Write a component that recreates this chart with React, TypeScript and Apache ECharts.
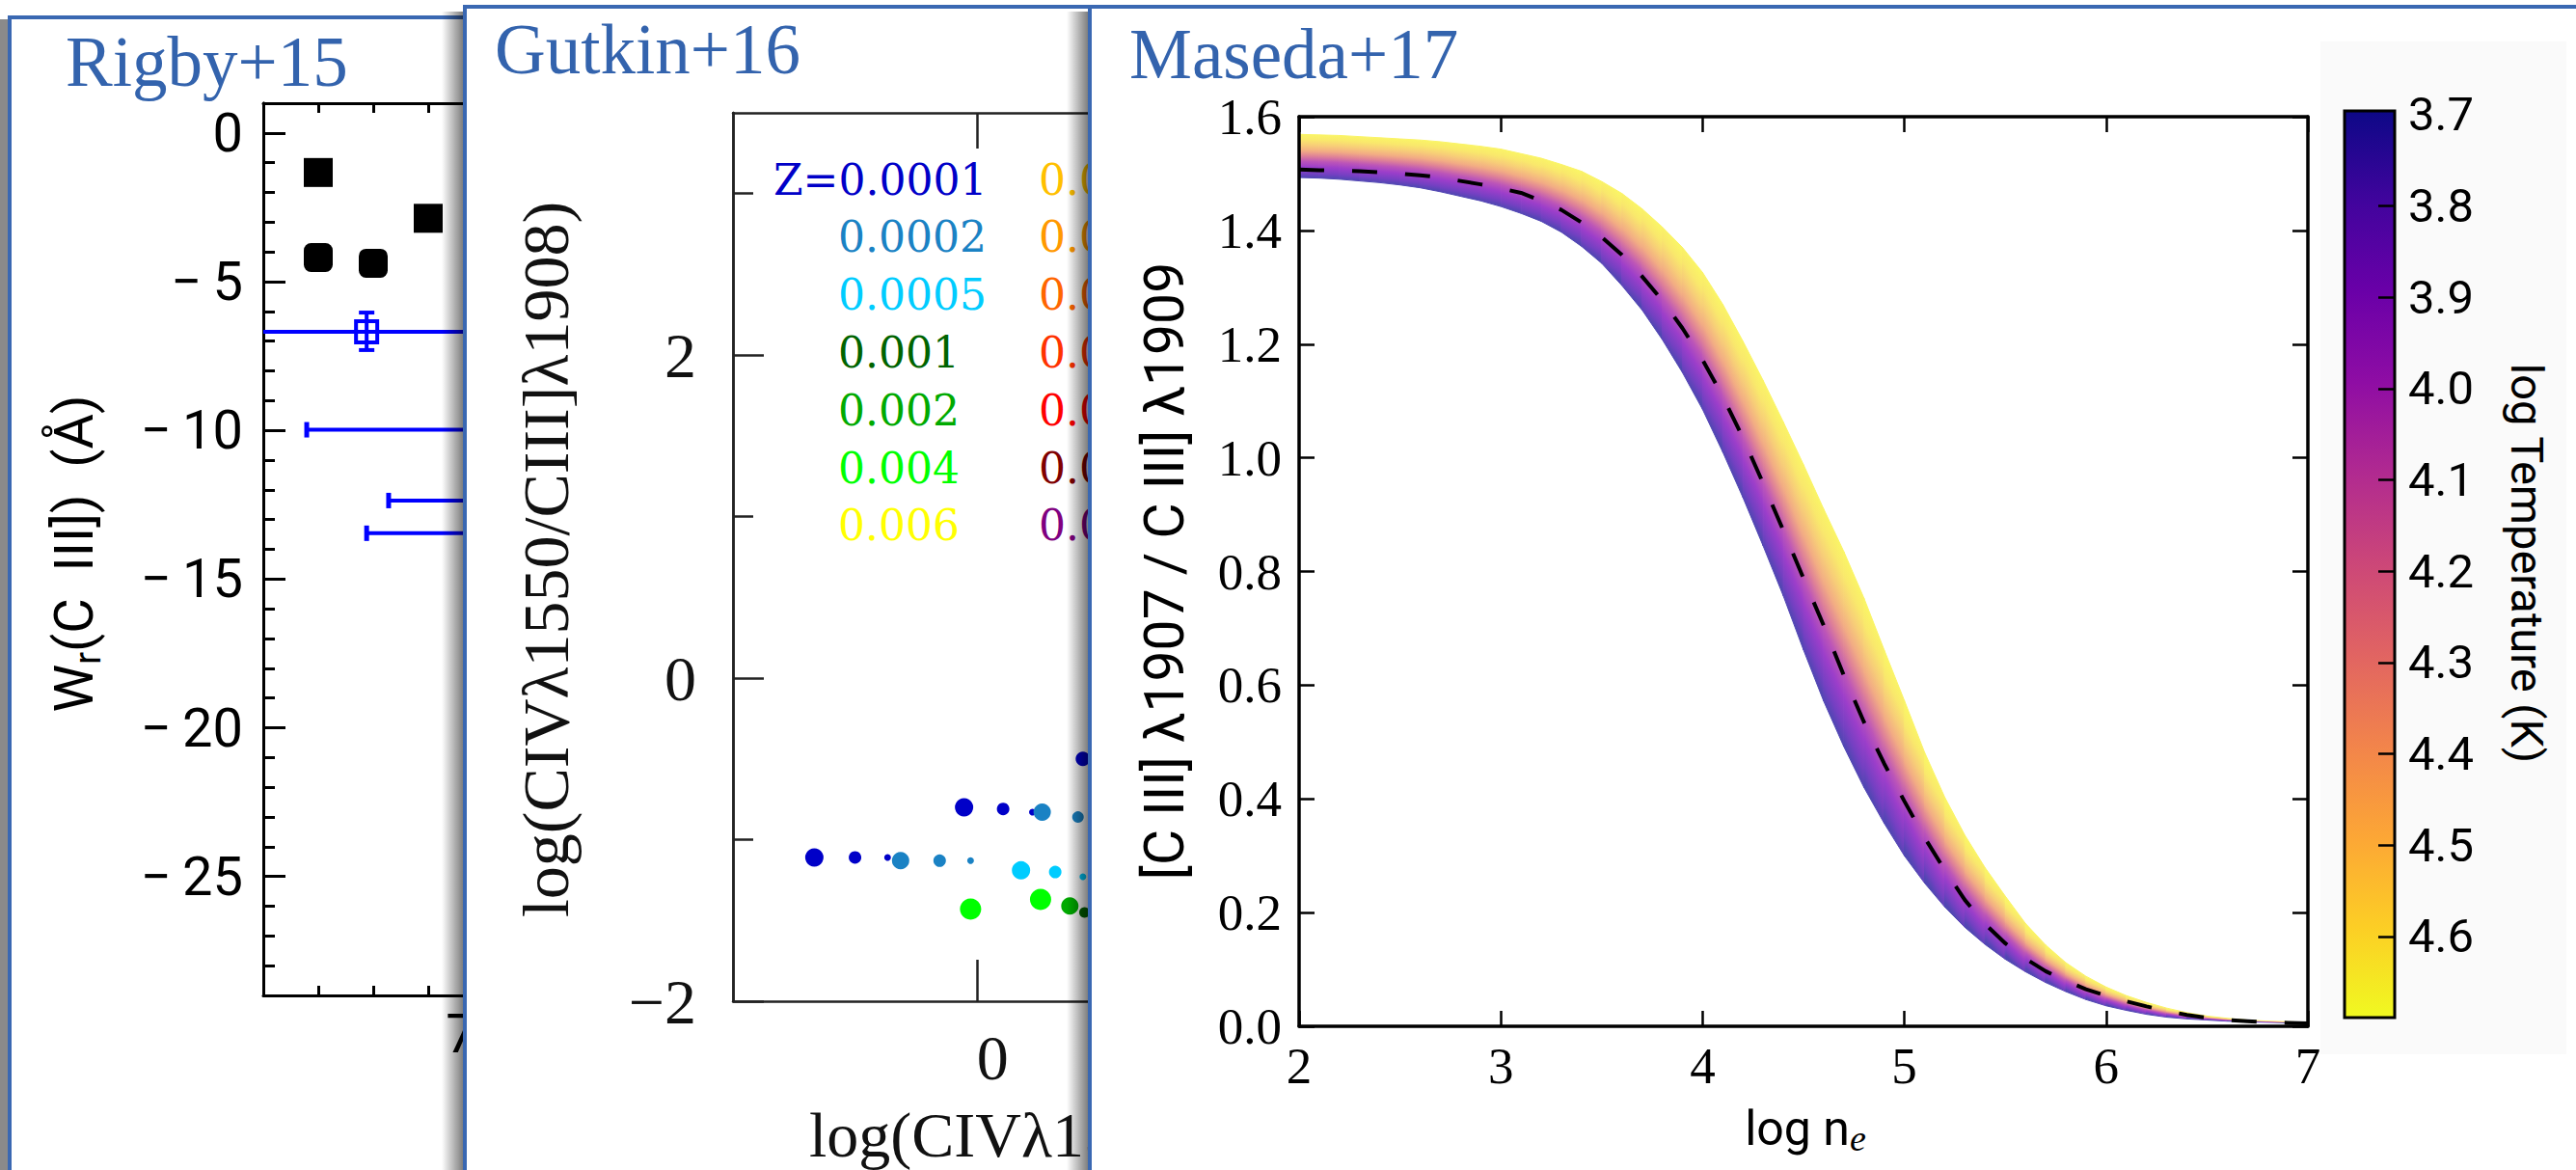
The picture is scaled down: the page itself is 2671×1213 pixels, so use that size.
import React, { useEffect, useRef } from "react";
import * as echarts from "echarts";

const W = 2671;
const H = 1213;

// ---------------- Rigby+15 ----------------
const rigbySquares = [
  [6.7, -1.33],
  [6.7, -4.19],
  [6.8, -4.38],
  [6.9, -2.87],
];
const rigbySquareSymbols = ["rect", "roundRect", "roundRect", "rect"];
const rigbyDetections = [[6.788, -6.69]];
const rigbyDetectionErr = [[6.788, -6.04, -7.3]]; // x, top, bottom
// y, x start, x end, capped(1)/open(0)
const rigbyLimitLines = [
  [-6.69, 6.5, 7.4, 0],
  [-9.98, 6.679, 7.4, 1],
  [-12.36, 6.828, 7.4, 1],
  [-13.46, 6.788, 7.4, 1],
];
const rigbyYMajor = [-25, -20, -15, -10, -5, 0];
const rigbyXLabels = [7];

// ---------------- Gutkin+16 ----------------
const gutkinZ1 = ["0.0001", "0.0002", "0.0005", "0.001", "0.002", "0.004", "0.006"];
const gutkinZ2 = ["0.008", "0.010", "0.014", "0.017", "0.020", "0.030", "0.040"];
const gutkinColors1 = ["#0000C8", "#1A82C4", "#00CCFF", "#006400", "#00AA00", "#00FF00", "#FFFF00"];
const gutkinColors2 = ["#FFC000", "#FF9900", "#FF6600", "#FF3300", "#FF0000", "#800000", "#800080"];
// per metallicity: [x, y, marker size]
const gutkinPoints = [
  [[-1.0, -1.11, 19], [-0.75, -1.11, 13], [-0.55, -1.11, 7], [-0.08, -0.8, 19], [0.16, -0.81, 13], [0.34, -0.83, 7], [0.65, -0.5, 15]],
  [[-0.47, -1.13, 18], [-0.23, -1.13, 13], [-0.04, -1.13, 7], [0.4, -0.83, 18], [0.62, -0.86, 12]],
  [[0.27, -1.19, 19], [0.48, -1.2, 13], [0.65, -1.23, 7]],
  [[0.66, -1.45, 11]],
  [[0.57, -1.41, 18]],
  [[-0.04, -1.43, 22], [0.39, -1.37, 22]],
  [],
];
const gutkinYMajor = [-2, 0, 2];
const gutkinYMinor = [-1, 1, 3];
const gutkinXTicks = [0, 2];
const gutkinXLabels = [0];

// ---------------- Maseda+17 ----------------
const masedaX = [
  2.0, 2.1, 2.2, 2.3, 2.4, 2.5, 2.6, 2.7, 2.8, 2.9,
  3.0, 3.1, 3.2, 3.3, 3.4, 3.5, 3.6, 3.7, 3.8, 3.9,
  4.0, 4.1, 4.2, 4.3, 4.4, 4.5, 4.6, 4.7, 4.8, 4.9,
  5.0, 5.1, 5.2, 5.3, 5.4, 5.5, 5.6, 5.7, 5.8, 5.9,
  6.0, 6.1, 6.2, 6.3, 6.4, 6.5, 6.6, 6.7, 6.8, 6.9, 7.0,
];
// edge of the band for the highest temperature (yellow side)
const masedaHighT = [
  1.569, 1.568, 1.567, 1.565, 1.563, 1.561, 1.559, 1.556, 1.552, 1.548,
  1.543, 1.535, 1.527, 1.516, 1.504, 1.486, 1.465, 1.438, 1.406, 1.37,
  1.326, 1.27, 1.205, 1.136, 1.063, 0.988, 0.91, 0.835, 0.753, 0.662,
  0.573, 0.482, 0.403, 0.336, 0.279, 0.229, 0.181, 0.143, 0.112, 0.088,
  0.069, 0.054, 0.042, 0.032, 0.024, 0.018, 0.014, 0.011, 0.009, 0.008, 0.007,
];
// edge of the band for the lowest temperature (purple side)
const masedaLowT = [
  1.493, 1.492, 1.49, 1.487, 1.484, 1.48, 1.475, 1.468, 1.46, 1.452,
  1.442, 1.43, 1.416, 1.397, 1.372, 1.342, 1.303, 1.26, 1.208, 1.15,
  1.085, 1.01, 0.93, 0.845, 0.757, 0.662, 0.572, 0.492, 0.42, 0.357,
  0.3, 0.252, 0.21, 0.174, 0.144, 0.118, 0.096, 0.077, 0.061, 0.047,
  0.036, 0.028, 0.021, 0.016, 0.013, 0.011, 0.009, 0.008, 0.007, 0.006, 0.005,
];
const masedaDashed = [
  1.507, 1.506, 1.505, 1.504, 1.502, 1.5, 1.497, 1.493, 1.487, 1.481,
  1.474, 1.466, 1.452, 1.436, 1.414, 1.388, 1.357, 1.319, 1.277, 1.228,
  1.172, 1.108, 1.035, 0.955, 0.872, 0.788, 0.705, 0.617, 0.535, 0.462,
  0.396, 0.332, 0.275, 0.222, 0.18, 0.146, 0.119, 0.097, 0.08, 0.065,
  0.054, 0.044, 0.035, 0.027, 0.02, 0.015, 0.011, 0.009, 0.007, 0.006, 0.005,
];
const cbarRange = [3.696, 4.689];
const cbarTicks = [3.8, 3.9, 4.0, 4.1, 4.2, 4.3, 4.4, 4.5, 4.6];
const cbarLabels = [3.7, 3.8, 3.9, 4.0, 4.1, 4.2, 4.3, 4.4, 4.5, 4.6];

const plasmaStops = [
  { offset: 0, color: "#0d0887" },
  { offset: 0.1, color: "#41049d" },
  { offset: 0.2, color: "#6a00a8" },
  { offset: 0.3, color: "#8f0da4" },
  { offset: 0.4, color: "#b12a90" },
  { offset: 0.5, color: "#cc4778" },
  { offset: 0.6, color: "#e16462" },
  { offset: 0.7, color: "#f2844b" },
  { offset: 0.8, color: "#fca636" },
  { offset: 0.9, color: "#fcce25" },
  { offset: 1, color: "#f0f921" },
];
const bandStops = [
  { offset: 0, color: "#5046B2" },
  { offset: 0.1, color: "#7440C2" },
  { offset: 0.25, color: "#9C3ECA" },
  { offset: 0.38, color: "#BC55B8" },
  { offset: 0.5, color: "#DE8098" },
  { offset: 0.62, color: "#F2AC84" },
  { offset: 0.75, color: "#F7CD78" },
  { offset: 0.88, color: "#F9E86C" },
  { offset: 1, color: "#FAF466" },
];

const TITLE_BLUE = "#3363AD";
const BORDER_BLUE = "#3A68B2";
const SERIF = "Liberation Serif";
const SANS = "Roboto";

const minusFmt = (v: number) => (v < 0 ? "\u2212" + Math.abs(v) : String(v));
const minusSpaced = (v: number) => (v < 0 ? "\u2212\u2009" + Math.abs(v) : String(v));

// axis label built as rich text so the font family is applied for sure
function richLabel(fmt: (v: number) => string, family: string, size: number, color: string) {
  const lh = Math.round(size * 0.92);
  return {
    formatter: (v: number) => "{t|" + fmt(v) + "}",
    fontFamily: family,
    fontSize: size,
    lineHeight: lh,
    color,
    rich: { t: { fontFamily: family, fontSize: size, lineHeight: lh, color } },
  };
}

function buildOption() {
  const graphics: any[] = [];
  const shadowGrad = () =>
    new echarts.graphic.LinearGradient(0, 0, 1, 0, [
      { offset: 0, color: "rgba(0,0,0,0)" },
      { offset: 1, color: "rgba(0,0,0,0.55)" },
    ]);

  // Rigby panel
  graphics.push({ type: "rect", z: 0, shape: { x: 0, y: 20, width: 9, height: 1200 }, style: { fill: "#8a8a8a" } });
  graphics.push({ type: "rect", z: 1, shape: { x: 10, y: 18, width: 1000, height: 1300 }, style: { fill: "#fff", stroke: BORDER_BLUE, lineWidth: 4 } });
  graphics.push({ type: "text", z: 3, x: 68, y: 64, style: { text: "Rigby+15", fontFamily: SERIF, fontSize: 73, lineHeight: 70, fill: TITLE_BLUE, align: "left", verticalAlign: "middle" } });
  graphics.push({
    type: "text", z: 3, x: 77, y: 574, rotation: Math.PI / 2,
    style: {
      text: "{a|W}{s|r}{a|(C\u00A0\u00A0III])\u00A0\u00A0(\u00C5)}",
      align: "center", verticalAlign: "middle",
      rich: {
        a: { fontFamily: SANS, fontSize: 56, fill: "#000", lineHeight: 66, verticalAlign: "middle" },
        s: { fontFamily: SANS, fontSize: 38, fill: "#000", lineHeight: 30, verticalAlign: "bottom" },
      },
    },
  });

  // Gutkin panel
  graphics.push({ type: "rect", z: 9, shape: { x: 458, y: 12, width: 24, height: 1210 }, style: { fill: shadowGrad() } });
  graphics.push({ type: "rect", z: 10, shape: { x: 482, y: 7, width: 1000, height: 1300 }, style: { fill: "#fff", stroke: BORDER_BLUE, lineWidth: 4 } });
  graphics.push({ type: "text", z: 12, x: 513, y: 51, style: { text: "Gutkin+16", fontFamily: SERIF, fontSize: 73, lineHeight: 70, fill: TITLE_BLUE, align: "left", verticalAlign: "middle" } });
  graphics.push({ type: "text", z: 12, x: 566, y: 580, rotation: Math.PI / 2, style: { text: "log(CIV\u03BB1550/CIII]\u03BB1908)", fontFamily: SERIF, fontSize: 68, fill: "#111", align: "center", verticalAlign: "middle" } });
  graphics.push({ type: "text", z: 12, x: 839, y: 1176, style: { text: "log(CIV\u03BB1550/HeII\u03BB1640)", fontFamily: SERIF, fontSize: 66, fill: "#111", align: "left", verticalAlign: "middle" } });
  gutkinZ1.forEach((z, i) => {
    graphics.push({ type: "text", z: 12, x: i === 0 ? 802 : 869, y: 186 + i * 59.8, style: { text: i === 0 ? "Z=" + z : z, fontFamily: "DejaVu Serif", fontSize: 44, lineHeight: 46, fill: gutkinColors1[i], align: "left", verticalAlign: "middle" } });
  });
  gutkinZ2.forEach((z, i) => {
    graphics.push({ type: "text", z: 12, x: 1077, y: 186 + i * 59.8, style: { text: z, fontFamily: "DejaVu Serif", fontSize: 44, lineHeight: 46, fill: gutkinColors2[i], align: "left", verticalAlign: "middle" } });
  });

  // Maseda panel
  graphics.push({ type: "rect", z: 19, shape: { x: 1106, y: 12, width: 24, height: 1210 }, style: { fill: shadowGrad() } });
  graphics.push({ type: "rect", z: 20, shape: { x: 1130, y: 7, width: 1600, height: 1300 }, style: { fill: "#fff", stroke: BORDER_BLUE, lineWidth: 4 } });
  graphics.push({ type: "rect", z: 21, shape: { x: 2406, y: 43, width: 255, height: 1050 }, style: { fill: "#FAFAFA" } });
  graphics.push({ type: "text", z: 25, x: 1171, y: 56, style: { text: "Maseda+17", fontFamily: SERIF, fontSize: 73, lineHeight: 66, fill: TITLE_BLUE, align: "left", verticalAlign: "middle" } });
  graphics.push({ type: "text", z: 25, x: 1207, y: 592, rotation: Math.PI / 2, style: { text: "[C III] \u03BB1907 / C III] \u03BB1909", fontFamily: SANS, fontSize: 57, fill: "#000", align: "center", verticalAlign: "middle" } });
  graphics.push({
    type: "text", z: 25, x: 1872, y: 1170,
    style: {
      text: "{a|log n}{s|e}", align: "center", verticalAlign: "middle",
      rich: {
        a: { fontFamily: SANS, fontSize: 50, fill: "#000", lineHeight: 58, verticalAlign: "middle" },
        s: { fontFamily: SERIF, fontStyle: "italic", fontSize: 38, fill: "#000", lineHeight: 24, verticalAlign: "bottom" },
      },
    },
  });
  graphics.push({ type: "text", z: 25, x: 2620, y: 584, rotation: -Math.PI / 2, style: { text: "log Temperature (K)", fontFamily: SANS, fontSize: 47, fill: "#000", align: "center", verticalAlign: "middle" } });

  const lineBlack = (w: number, c = "#000") => ({ color: c, width: w });

  const xAxis: any[] = [
    {
      gridIndex: 0, type: "value", position: "bottom", min: 6.6, max: 7.4, interval: 0.1, z: 2,
      axisLine: { onZero: false, lineStyle: lineBlack(3) },
      axisTick: { inside: true, length: 10, lineStyle: lineBlack(3) },
      axisLabel: { customValues: rigbyXLabels, margin: 14, ...richLabel((v) => v.toFixed(1), SANS, 56, "#000") },
      splitLine: { show: false },
    },
    {
      gridIndex: 0, type: "value", position: "top", min: 6.6, max: 7.4, interval: 0.1, z: 2,
      axisLine: { onZero: false, lineStyle: lineBlack(3) },
      axisTick: { inside: true, length: 10, lineStyle: lineBlack(3) },
      axisLabel: { show: false }, splitLine: { show: false },
    },
    {
      gridIndex: 1, type: "value", position: "bottom", min: -1.5, max: 2.5, z: 11,
      axisLine: { onZero: false, lineStyle: lineBlack(2.5, "#222") },
      axisTick: { inside: true, length: 43, customValues: gutkinXTicks, lineStyle: lineBlack(2.5, "#222") },
      axisLabel: { customValues: gutkinXLabels, margin: 28, padding: [0, 0, 0, 32], ...richLabel((v) => String(v), SERIF, 66, "#111") },
      splitLine: { show: false },
    },
    {
      gridIndex: 1, type: "value", position: "top", min: -1.5, max: 2.5, z: 11,
      axisLine: { onZero: false, lineStyle: lineBlack(2.5, "#222") },
      axisTick: { inside: true, length: 37, customValues: gutkinXTicks, lineStyle: lineBlack(2.5, "#222") },
      axisLabel: { show: false }, splitLine: { show: false },
    },
    {
      gridIndex: 2, type: "value", position: "bottom", min: 2, max: 7, interval: 1, z: 24,
      axisLine: { onZero: false, lineStyle: lineBlack(3.5) },
      axisTick: { inside: true, length: 16, lineStyle: lineBlack(2.5) },
      axisLabel: { margin: 16, ...richLabel((v) => String(v), SERIF, 53, "#000") },
      splitLine: { show: false },
    },
    {
      gridIndex: 2, type: "value", position: "top", min: 2, max: 7, interval: 1, z: 24,
      axisLine: { onZero: false, lineStyle: lineBlack(3.5) },
      axisTick: { inside: true, length: 16, lineStyle: lineBlack(2.5) },
      axisLabel: { show: false }, splitLine: { show: false },
    },
    { gridIndex: 3, type: "value", min: 0, max: 1, show: false, splitLine: { show: false } },
  ];

  const yAxis: any[] = [
    {
      gridIndex: 0, type: "value", position: "left", min: -29, max: 1, z: 2,
      axisLine: { onZero: false, lineStyle: lineBlack(3) },
      axisTick: { inside: true, length: 23, customValues: rigbyYMajor, lineStyle: lineBlack(3) },
      axisLabel: { customValues: rigbyYMajor, margin: 21, ...richLabel(minusSpaced, SANS, 56, "#000") },
      splitLine: { show: false },
    },
    {
      gridIndex: 0, type: "value", position: "left", min: -29, max: 1, interval: 1, z: 2,
      axisLine: { onZero: false, lineStyle: lineBlack(3) },
      axisTick: { inside: true, length: 12, lineStyle: lineBlack(3) },
      axisLabel: { show: false }, splitLine: { show: false },
    },
    {
      gridIndex: 1, type: "value", position: "left", min: -2, max: 3.5, z: 11,
      axisLine: { onZero: false, lineStyle: lineBlack(2.5, "#222") },
      axisTick: { inside: true, length: 32, customValues: gutkinYMajor, lineStyle: lineBlack(2.5, "#222") },
      axisLabel: { customValues: gutkinYMajor, margin: 38, ...richLabel(minusFmt, SERIF, 66, "#111") },
      splitLine: { show: false },
    },
    {
      gridIndex: 1, type: "value", position: "left", min: -2, max: 3.5, z: 11,
      axisLine: { onZero: false, lineStyle: lineBlack(2.5, "#222") },
      axisTick: { inside: true, length: 21, customValues: gutkinYMinor, lineStyle: lineBlack(2.5, "#222") },
      axisLabel: { show: false }, splitLine: { show: false },
    },
    {
      gridIndex: 2, type: "value", position: "left", min: 0, max: 1.6, interval: 0.2, z: 24,
      axisLine: { onZero: false, lineStyle: lineBlack(3.5) },
      axisTick: { inside: true, length: 16, lineStyle: lineBlack(2.5) },
      axisLabel: { margin: 18, ...richLabel((v) => v.toFixed(1), SERIF, 53, "#000") },
      splitLine: { show: false },
    },
    {
      gridIndex: 2, type: "value", position: "right", min: 0, max: 1.6, interval: 0.2, z: 24,
      axisLine: { onZero: false, lineStyle: lineBlack(3.5) },
      axisTick: { inside: true, length: 16, lineStyle: lineBlack(2.5) },
      axisLabel: { show: false }, splitLine: { show: false },
    },
    {
      gridIndex: 3, type: "value", position: "right", min: cbarRange[0], max: cbarRange[1], inverse: true, z: 24,
      axisLine: { show: false, onZero: false },
      axisTick: { inside: true, length: 17, customValues: cbarTicks, lineStyle: lineBlack(2.5) },
      axisLabel: { customValues: cbarLabels, margin: 14, ...richLabel((v) => v.toFixed(1), SANS, 49, "#000") },
      splitLine: { show: false },
    },
  ];

  const series: any[] = [];

  // Rigby series
  series.push({
    type: "scatter", xAxisIndex: 0, yAxisIndex: 0, z: 3, silent: true, symbolSize: 30,
    itemStyle: { color: "#000", opacity: 1 },
    data: rigbySquares.map((p, i) => ({ value: p, symbol: rigbySquareSymbols[i] })),
  });
  series.push({
    type: "scatter", xAxisIndex: 0, yAxisIndex: 0, z: 3, silent: true, symbol: "rect", symbolSize: 22,
    itemStyle: { color: "#fff", borderColor: "#0000FF", borderWidth: 4, opacity: 1 },
    data: rigbyDetections,
  });
  series.push({
    type: "custom", xAxisIndex: 0, yAxisIndex: 0, z: 4, silent: true, clip: true,
    data: rigbyLimitLines,
    renderItem: (params: any, api: any) => {
      const y = api.value(0);
      const p0 = api.coord([api.value(1), y]);
      const p1 = api.coord([api.value(2), y]);
      const children: any[] = [
        { type: "line", shape: { x1: p0[0], y1: p0[1], x2: p1[0], y2: p1[1] }, style: { stroke: "#0000FF", lineWidth: 4 } },
      ];
      if (api.value(3) > 0) {
        children.push({ type: "line", shape: { x1: p0[0], y1: p0[1] - 8, x2: p0[0], y2: p0[1] + 8 }, style: { stroke: "#0000FF", lineWidth: 5 } });
      }
      return { type: "group", children };
    },
  });
  series.push({
    type: "custom", xAxisIndex: 0, yAxisIndex: 0, z: 4, silent: true, clip: true,
    data: rigbyDetectionErr,
    renderItem: (params: any, api: any) => {
      const x = api.value(0);
      const a = api.coord([x, api.value(1)]);
      const b = api.coord([x, api.value(2)]);
      return {
        type: "group",
        children: [
          { type: "line", shape: { x1: a[0], y1: a[1], x2: b[0], y2: b[1] }, style: { stroke: "#0000FF", lineWidth: 4 } },
          { type: "line", shape: { x1: a[0] - 8, y1: a[1], x2: a[0] + 8, y2: a[1] }, style: { stroke: "#0000FF", lineWidth: 4 } },
          { type: "line", shape: { x1: b[0] - 8, y1: b[1], x2: b[0] + 8, y2: b[1] }, style: { stroke: "#0000FF", lineWidth: 4 } },
        ],
      };
    },
  });

  // Gutkin series
  gutkinPoints.forEach((pts, i) => {
    if (!pts.length) return;
    series.push({
      type: "scatter", xAxisIndex: 2, yAxisIndex: 2, z: 12, silent: true,
      symbol: "circle", symbolSize: (v: number[]) => v[2],
      itemStyle: { color: gutkinColors1[i], opacity: 1 },
      data: pts,
    });
  });

  // Maseda band
  const bandData = masedaX.slice(0, -1).map((x, i) => [x, masedaLowT[i], masedaHighT[i], masedaX[i + 1], masedaLowT[i + 1], masedaHighT[i + 1]]);
  series.push({
    type: "custom", xAxisIndex: 4, yAxisIndex: 4, z: 22, silent: true, clip: true,
    data: bandData,
    renderItem: (params: any, api: any) => {
      const L0 = api.coord([api.value(0), api.value(1)]);
      const U0 = api.coord([api.value(0), api.value(2)]);
      const L1 = api.coord([api.value(3), api.value(4)]);
      const U1 = api.coord([api.value(3), api.value(5)]);
      let dx = L1[0] - L0[0] + (U1[0] - U0[0]);
      let dy = L1[1] - L0[1] + (U1[1] - U0[1]);
      const len = Math.hypot(dx, dy) || 1;
      dx /= len;
      dy /= len;
      let nx = -dy;
      let ny = dx;
      const ML = [(L0[0] + L1[0]) / 2, (L0[1] + L1[1]) / 2];
      const MU = [(U0[0] + U1[0]) / 2, (U0[1] + U1[1]) / 2];
      let proj = (MU[0] - ML[0]) * nx + (MU[1] - ML[1]) * ny;
      if (proj < 0) {
        nx = -nx;
        ny = -ny;
        proj = -proj;
      }
      proj = Math.max(proj, 1);
      const grad = new echarts.graphic.LinearGradient(ML[0], ML[1], ML[0] + nx * proj, ML[1] + ny * proj, bandStops, true);
      return {
        type: "polygon",
        shape: { points: [L0, L1, U1, U0] },
        style: { fill: grad, stroke: grad, lineWidth: 1 },
      };
    },
  });
  series.push({
    type: "line", xAxisIndex: 4, yAxisIndex: 4, z: 23, silent: true, clip: true,
    symbol: "none", showSymbol: false,
    lineStyle: { color: "#000", width: 4, type: [26, 29] },
    data: masedaX.map((x, i) => [x, masedaDashed[i]]),
  });
  // colorbar
  series.push({
    type: "custom", xAxisIndex: 6, yAxisIndex: 6, z: 22, silent: true, clip: false,
    data: [[0, cbarRange[0], 1, cbarRange[1]]],
    renderItem: (params: any, api: any) => {
      const a = api.coord([api.value(0), api.value(1)]);
      const b = api.coord([api.value(2), api.value(3)]);
      return {
        type: "rect",
        shape: { x: Math.min(a[0], b[0]), y: Math.min(a[1], b[1]), width: Math.abs(b[0] - a[0]), height: Math.abs(b[1] - a[1]) },
        style: { fill: new echarts.graphic.LinearGradient(0, 0, 0, 1, plasmaStops), stroke: "#000", lineWidth: 3 },
      };
    },
  });

  return {
    animation: false,
    backgroundColor: "#ffffff",
    textStyle: { fontFamily: SANS },
    grid: [
      { left: 273, top: 107, width: 456, height: 925, outerBoundsMode: "none", containLabel: false },
      { left: 760, top: 117, width: 675, height: 921, outerBoundsMode: "none", containLabel: false },
      { left: 1347, top: 121, width: 1046, height: 943, outerBoundsMode: "none", containLabel: false },
      { left: 2431, top: 115, width: 52, height: 940, outerBoundsMode: "none", containLabel: false },
    ],
    xAxis,
    yAxis,
    series,
    graphic: { elements: graphics },
  };
}

export default function App() {
  const ref = useRef<HTMLDivElement>(null);
  useEffect(() => {
    if (!ref.current) return;
    const chart = echarts.init(ref.current, undefined, { renderer: "svg", width: W, height: H });
    chart.setOption(buildOption() as any);
    return () => chart.dispose();
  }, []);
  return <div ref={ref} style={{ position: "fixed", left: 0, top: 0, width: W, height: H, background: "#fff" }} />;
}
